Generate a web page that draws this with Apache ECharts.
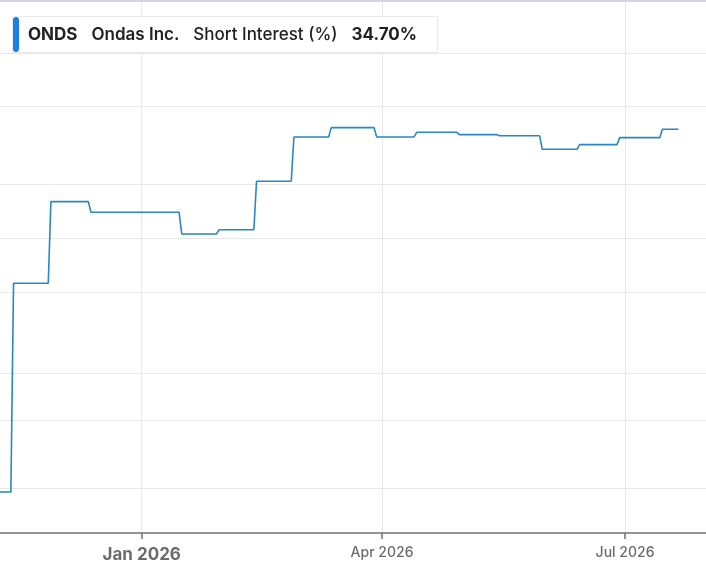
<!DOCTYPE html>
<html>
<head>
<meta charset="utf-8">
<script src="https://cdn.jsdelivr.net/npm/echarts@6/dist/echarts.min.js"></script>
<style>
  html, body { margin: 0; padding: 0; background: #fff; }
  .wrap { position: relative; width: 706px; height: 568px; }
  #chart { position: absolute; left: 0; top: 0; width: 706px; height: 568px; }
  .frame-top { position: absolute; left: 0; top: 0; width: 706px; height: 2px; background: #d3d6dd; z-index: 5; }
</style>
</head>
<body>
<div class="wrap">
  <div id="chart"></div>
  <div class="frame-top"></div>
</div>
<script>
// header
const ticker = "ONDS";
const companyName = "Ondas Inc.";
const metricName = "Short Interest (%)";
const latestText = "34.70%";

// each short interest level: first and last day shown, value in %
const levelFrom = [
  "2025-11-01", "2025-11-14", "2025-11-28", "2025-12-13", "2026-01-16",
  "2026-01-30", "2026-02-13", "2026-02-27", "2026-03-13", "2026-03-30",
  "2026-04-14", "2026-04-30", "2026-05-15", "2026-05-31", "2026-06-14",
  "2026-06-29", "2026-07-15"
];
const levelTo = [
  "2025-11-13", "2025-11-27", "2025-12-12", "2026-01-15", "2026-01-29",
  "2026-02-12", "2026-02-26", "2026-03-12", "2026-03-29", "2026-04-13",
  "2026-04-29", "2026-05-14", "2026-05-30", "2026-06-13", "2026-06-28",
  "2026-07-14", "2026-07-21"
];
const shortInterest = [
  3.52, 21.46, 28.48, 27.57, 25.70,
  26.07, 30.23, 34.04, 34.84, 34.04,
  34.44, 34.24, 34.15, 32.98, 33.38,
  33.98, 34.70
];

// axis ticks
const xTicks = ["2026-01-01", "2026-04-01", "2026-07-01"];
const yTicks = [3.87, 9.71, 13.75, 20.72, 25.36, 30.0, 36.7, 41.26];
const monthNames = ["Jan", "Feb", "Mar", "Apr", "May", "Jun", "Jul", "Aug", "Sep", "Oct", "Nov", "Dec"];

const toTime = (s) => {
  const p = s.split(/[- :]/).map(Number);
  return new Date(p[0], p[1] - 1, p[2], p[3] || 0, p[4] || 0).getTime();
};

const seriesData = [];
levelFrom.forEach((d, i) => {
  seriesData.push([toTime(d), shortInterest[i]]);
  seriesData.push([toTime(levelTo[i]), shortInterest[i]]);
});

const myChart = echarts.init(document.getElementById("chart"));
const option = {
  animation: false,
  backgroundColor: "#fff",
  title: {
    left: 12,
    top: 16,
    padding: [1, 21, 1, 1],
    backgroundColor: "#fff",
    borderColor: "#ebebeb",
    borderWidth: 1,
    text:
      "{bar|}{sym|" + ticker + "}{name|" + companyName + "}{lbl|" +
      metricName + "}{val|" + latestText + "}",
    textStyle: {
      rich: {
        bar: { width: 6, height: 35, backgroundColor: "#1a7fe8", borderRadius: 3 },
        sym: { fontFamily: "Inter", fontSize: 17, fontWeight: 700, color: "#202124", padding: [0, 0, 0, 9] },
        name: { fontFamily: "Inter", fontSize: 17, fontWeight: 600, color: "#202124", padding: [0, 0, 0, 14] },
        lbl: { fontFamily: "Inter", fontSize: 17, fontWeight: 500, color: "#202124", padding: [0, 0, 0, 14] },
        val: { fontFamily: "Inter", fontSize: 17, fontWeight: 700, color: "#202124", padding: [0, 0, 0, 14] },
      },
    },
  },
  grid: { left: 0, right: 0, top: 2, bottom: 35, containLabel: false },
  xAxis: {
    type: "value",
    min: toTime("2025-11-08 22:20"),
    max: toTime("2026-07-31 07:40"),
    axisLine: { lineStyle: { color: "#707070", width: 1.5 } },
    axisTick: {
      show: true,
      length: 6,
      customValues: xTicks.map(toTime),
      lineStyle: { color: "#707070", width: 1.5 },
    },
    splitLine: { show: true, lineStyle: { color: "#e8e8e8", width: 1 } },
    axisLabel: {
      customValues: xTicks.map(toTime),
      margin: 13,
      formatter: (value) => {
        const d = new Date(value);
        const txt = monthNames[d.getMonth()] + " " + d.getFullYear();
        return d.getMonth() === 0 ? "{yr|" + txt + "}" : "{mo|" + txt + "}";
      },
      rich: {
        yr: { fontFamily: "Inter", fontSize: 17, fontWeight: 700, color: "#6b6b6b" },
        mo: { fontFamily: "Inter", fontSize: 14, fontWeight: 500, color: "#6b6b6b" },
      },
    },
  },
  yAxis: {
    type: "value",
    min: 0,
    max: 45.64,
    axisLine: { show: false },
    axisTick: { show: false, customValues: yTicks },
    axisLabel: { show: false },
    splitLine: { show: true, lineStyle: { color: "#e8e8e8", width: 1 } },
  },
  series: [
    {
      name: metricName,
      type: "line",
      data: seriesData,
      showSymbol: false,
      lineStyle: { color: "#2a86c4", width: 1.6 },
    },
  ],
};
myChart.setOption(option);
</script>
</body>
</html>
